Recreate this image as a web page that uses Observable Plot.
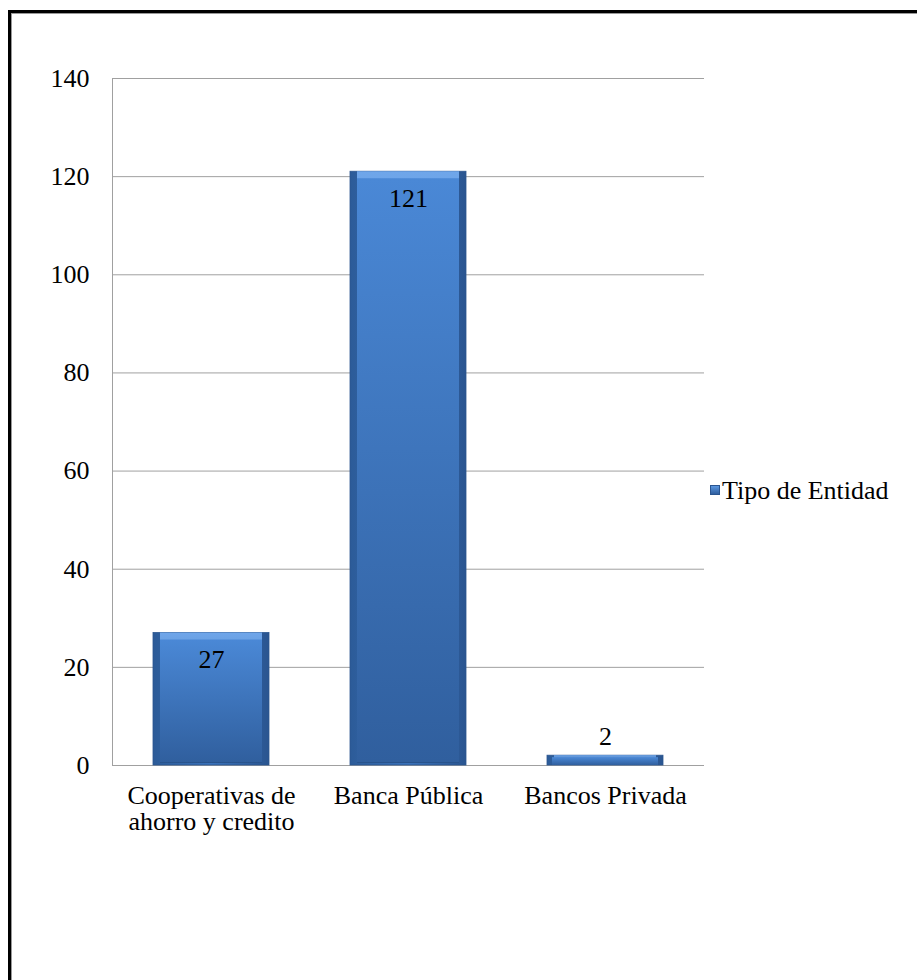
<!DOCTYPE html>
<html>
<head>
<meta charset="utf-8">
<script src="https://cdn.jsdelivr.net/npm/d3@7"></script>
<script src="https://cdn.jsdelivr.net/npm/@observablehq/plot@0.6"></script>
<style>
  html, body { margin: 0; padding: 0; background: #fff; overflow: hidden; }
  #wrap { position: relative; width: 917px; height: 980px; }
  #frame { position: absolute; left: 8px; top: 10px; width: 1000px; height: 1100px;
           border-left: 3px solid #000; border-top: 3px solid #000; box-sizing: border-box;
           box-shadow: inset 1px 1px 0 #999; pointer-events: none; }
  #legend { position: absolute; left: 710px; top: 476px; font-family: "Liberation Serif", "Times New Roman", serif;
            font-size: 26px; color: #000; display: flex; align-items: center; white-space: nowrap; }
  #legend .sw { width: 10px; height: 10px; margin-right: 2px; margin-top: -2px; background: linear-gradient(#5b97e0, #2f5f9f); border: 1px solid #2a5590; box-sizing: border-box; }
</style>
</head>
<body>
<div id="wrap">
  <div id="chart"></div>
  <div id="frame"></div>
  <div id="legend"><span class="sw"></span><span>Tipo de Entidad</span></div>
</div>
<script>
const categories = ["Cooperativas de\nahorro y credito", "Banca Pública", "Bancos Privada"];
const values = [27, 121, 2];
const yTicks = [0, 20, 40, 60, 80, 100, 120, 140];
const seriesName = "Tipo de Entidad";

const data = categories.map((c, i) => ({cat: c, value: values[i]}));
const font = '"Liberation Serif", "Times New Roman", serif';

const chart = Plot.plot({
  width: 917,
  height: 980,
  marginLeft: 112,
  marginRight: 213,
  marginTop: 78,
  marginBottom: 215,
  style: {fontFamily: font, fontSize: "26px", color: "#000", background: "transparent"},
  x: {domain: categories, paddingInner: 0.412, paddingOuter: 0.206, label: null},
  y: {domain: [0, 140], label: null},
  marks: [
    Plot.gridY(yTicks, {stroke: "#a0a0a0", strokeOpacity: 1, strokeWidth: 1}),
    Plot.frame({anchor: "left", stroke: "#a0a0a0"}),
    Plot.barY(data, {x: "cat", y: "value", fill: "url(#gradH)", stroke: "#2b568f", strokeWidth: 0.8}),
    Plot.barY(data, {x: "cat", y: "value", fill: "url(#gradTop)", insetLeft: 7, insetRight: 7, insetBottom: 2, insetTop: 0}),
    Plot.barY(data.filter(d => d.value > 10), {x: "cat", y: "value", fill: "url(#gradV)", insetLeft: 7, insetRight: 7, insetBottom: 3, insetTop: 7}),
    Plot.barY(data.filter(d => d.value <= 10), {x: "cat", y: "value", fill: "url(#gradV)", insetLeft: 5, insetRight: 5, insetTop: 2}),
    Plot.text(data.filter(d => d.value > 10), {x: "cat", y: "value", text: d => String(d.value), dy: 27, fill: "#000", fontSize: 26}),
    Plot.text(data.filter(d => d.value <= 10), {x: "cat", y: "value", text: d => String(d.value), dy: -19, fill: "#000", fontSize: 26}),
    Plot.axisY(yTicks, {tickSize: 0, tickPadding: 23, label: null, fontSize: 26}),
    Plot.axisX({tickSize: 0, tickPadding: 19, label: null, fontSize: 26, lineHeight: 1.03, textAnchor: "middle"})
  ]
});

const defs = d3.select(chart).insert("defs", ":first-child");
const gh = defs.append("linearGradient").attr("id", "gradH").attr("x1", 0).attr("x2", 1).attr("y1", 0).attr("y2", 0);
gh.append("stop").attr("offset", "0%").attr("stop-color", "#2c5b98");
gh.append("stop").attr("offset", "50%").attr("stop-color", "#3a72ba");
gh.append("stop").attr("offset", "100%").attr("stop-color", "#2a5590");
const gt = defs.append("linearGradient").attr("id", "gradTop").attr("x1", 0).attr("x2", 0).attr("y1", 0).attr("y2", 1);
gt.append("stop").attr("offset", "0%").attr("stop-color", "#6fa6ea");
gt.append("stop").attr("offset", "100%").attr("stop-color", "#28538c");
const gv = defs.append("linearGradient").attr("id", "gradV").attr("x1", 0).attr("x2", 0).attr("y1", 0).attr("y2", 1);
gv.append("stop").attr("offset", "0%").attr("stop-color", "#4a88d6");
gv.append("stop").attr("offset", "100%").attr("stop-color", "#305f9e");

document.getElementById("chart").appendChild(chart);
</script>
</body>
</html>
